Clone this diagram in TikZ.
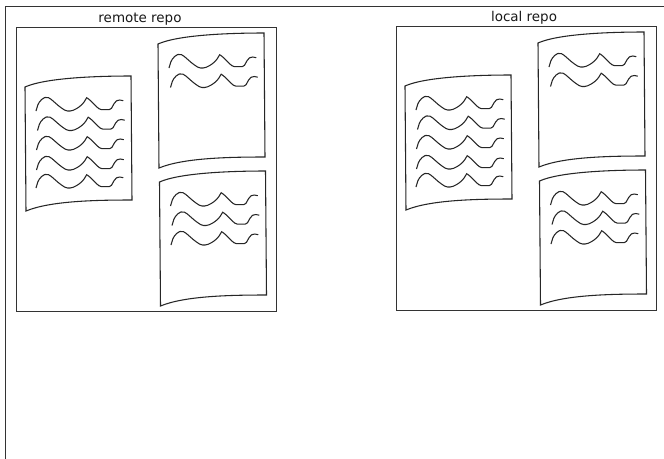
\documentclass[tikz,border=0pt]{standalone}
\usepackage{fontspec}
\setmainfont{DejaVu Sans}
\tikzset{
  x=0.75pt,y=-0.75pt,
  frame/.style={draw=black!80,line width=0.75pt},
  sheet/.style={draw=black!85,line width=0.8pt,line join=miter},
  scribble/.style={draw=black!85,line width=0.8pt,rounded corners=1.2pt},
  title/.style={font=\fontsize{10.1pt}{12pt}\selectfont,text=black!90,inner sep=0pt,anchor=base}
}
% one line of writing, relative to the current shift
\newcommand{\wavy}[2]{%
  \draw[scribble,shift={(#1,#2)}] (0,0) -- (2.3,-7.7) -- (6.7,-12.7) -- (10.7,-14) -- (14,-12.7)
    -- (19,-8.3) -- (24,-4) -- (30,0) -- (35.7,0) -- (42.3,-3.3) -- (47.3,-7.7)
    [rounded corners=0pt] -- (50.7,-13.3) [rounded corners=1.2pt] -- (54,-11) -- (59,-5.7) -- (64,-1.3) -- (74.7,-1.3)
    -- (79,-9) -- (82.3,-11.3) -- (87.3,-10.3);}
% a sheet: #1,#2 = top-left corner, #3 = its lines
\newcommand{\sheetat}[3]{%
  \begin{scope}[shift={(#1,#2)}]
    \draw[sheet] (0,0) .. controls (20,-9) and (70,-11) .. (106,-11) -- (107,113)
      .. controls (70,113) and (25,114) .. (1,124) -- cycle;
    \begin{scope}[shift={(11,24)}]#3\end{scope}
  \end{scope}}
% a repository: #1,#2 = shift, #3 = name, #4 = x of the title
\newcommand{\repo}[4]{%
  \begin{scope}[shift={(#1,#2)}]
    \draw[frame] (16,27) rectangle (276,311);
    \node[title] (#3) at (#4,22.5) {#3 repo};
    \sheetat{25}{87}{\wavy{0}{0}\wavy{1.5}{19.5}\wavy{0.5}{39}\wavy{0.5}{59}\wavy{0}{77}}
    \sheetat{158}{44}{\wavy{0}{0}\wavy{1.5}{19.5}}
    \sheetat{159.5}{182}{\wavy{0}{0}\wavy{1.5}{19.5}\wavy{0.5}{39}}
  \end{scope}}
\begin{document}
\begin{tikzpicture}
  \useasboundingbox (0,0) rectangle (664,458);
  \fill[white] (0,0) rectangle (664,458);
  \draw[frame] (5,470) -- (5,6) -- (670,6);
  \repo{0}{0}{remote}{140}
  \repo{380}{-1}{local}{144}
\end{tikzpicture}
\end{document}
